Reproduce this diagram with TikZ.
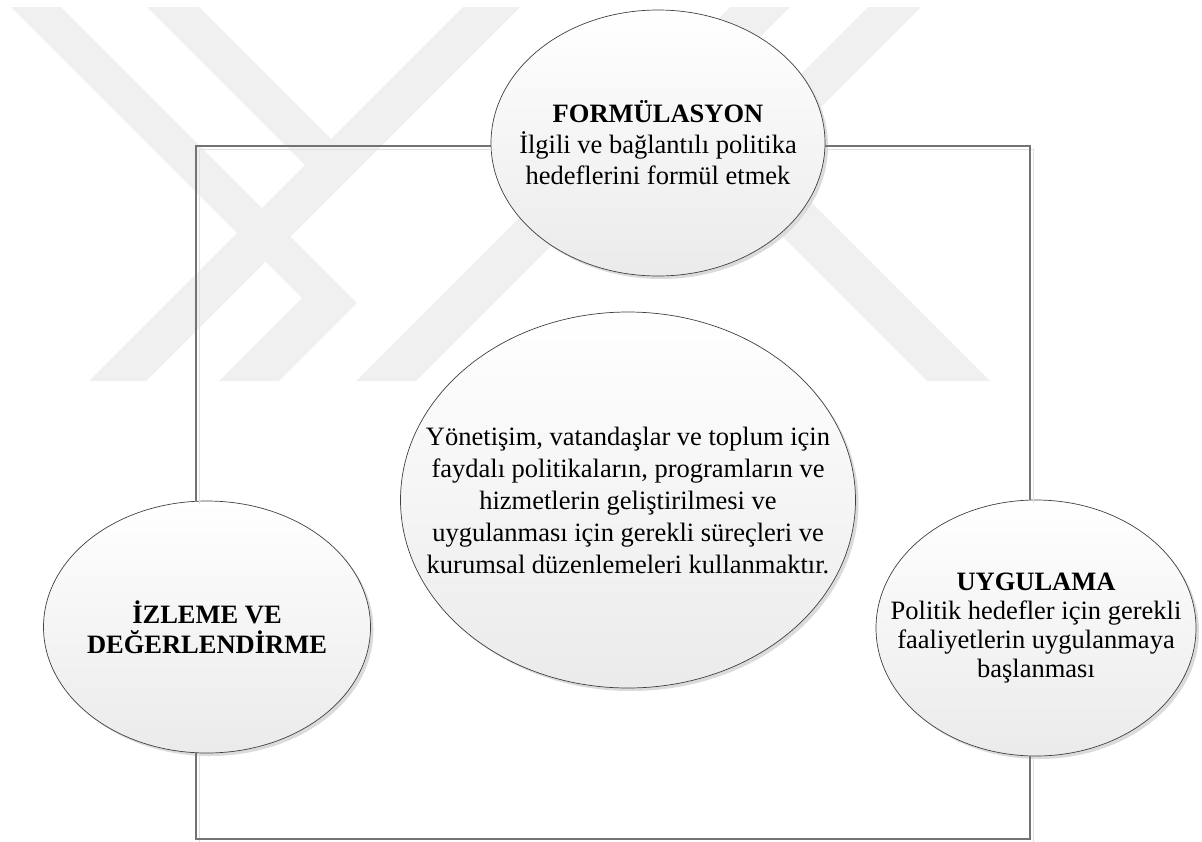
\documentclass[tikz,border=0pt]{standalone}
\usepackage{fontspec}
\setmainfont{Liberation Serif}
\usetikzlibrary{shapes.geometric,shadows}

\begin{document}
\begin{tikzpicture}[x=1pt,y=-1pt]
        \tikzstyle{stage}=[ellipse,draw=black!75,line width=0.7pt,inner sep=0pt,
            top color=white,bottom color=black!8,
            drop shadow={shadow xshift=3pt,shadow yshift=-3pt,fill=black!14,opacity=1}]
        \tikzstyle{txt}=[align=center,inner sep=0pt,font=\fontsize{26.5}{31}\selectfont]
        \tikzstyle{link}=[draw=black!55,line width=1.2pt]
        \tikzstyle{linkshade}=[draw=black!12,line width=1pt,transform canvas={xshift=3pt,yshift=-3pt}]
        \tikzstyle{stripe}=[fill=black!6,draw=none]
        \useasboundingbox (0,0) rectangle (1202,841);

        % watermark
        \fill[stripe] (11,7) -- (61,7) -- (357,303) -- (279,381) -- (219,381) -- (302,298) -- cycle;
        \fill[stripe] (147,7) -- (199,7) -- (331,139) -- (305,165) -- cycle;
        \fill[stripe] (463,7) -- (520,7) -- (146,381) -- (89,381) -- cycle;
        \fill[stripe] (730,7) -- (790,7) -- (416,381) -- (356,381) -- cycle;
        \fill[stripe] (868,7) -- (921,7) -- (768.5,159.5) -- (742,133) -- cycle;
        \fill[stripe] (703,94) -- (990,381) -- (927,381) -- (671.5,125.5) -- cycle;

        \coordinate (tl) at (196,146);
        \coordinate (tr) at (1030,146);
        \coordinate (bl) at (196,839);
        \coordinate (br) at (1030,839);

        \node[stage,minimum width=334pt,minimum height=266pt] (form) at (658,143) {};
        \node[stage,minimum width=455pt,minimum height=376pt] (core) at (628,500) {};
        \node[stage,minimum width=327pt,minimum height=252pt] (izle) at (207,627) {};
        \node[stage,minimum width=320pt,minimum height=256pt] (uyg) at (1036,628) {};

        \foreach \s in {linkshade,link} {
            \draw[\s] (form.west |- tl) -- (tl) -- (tl |- izle.north);
            \draw[\s] (izle.south -| bl) -- (bl) -- (br) -- (br |- uyg.south);
            \draw[\s] (uyg.north -| tr) -- (tr) -- (tr -| form.east);
        }

        \node[txt] (formtxt) at (form) {{\bfseries FORMÜLASYON}\\İlgili ve bağlantılı politika\\hedeflerini formül etmek};
        \node[txt,font=\fontsize{26.5}{32}\selectfont] (coretxt) at (core) {Yönetişim, vatandaşlar ve toplum için\\faydalı politikaların, programların ve\\hizmetlerin geliştirilmesi ve\\uygulanması için gerekli süreçleri ve\\kurumsal düzenlemeleri kullanmaktır.};
        \node[txt,font=\fontsize{26.5}{30}\selectfont\bfseries] (izletxt) at (izle) {İZLEME VE\\DEĞERLENDİRME};
        \node[txt,font=\fontsize{26.5}{29}\selectfont] (uygtxt) at (uyg) {{\bfseries UYGULAMA}\\Politik hedefler için gerekli\\faaliyetlerin uygulanmaya\\başlanması};
\end{tikzpicture}
\end{document}
